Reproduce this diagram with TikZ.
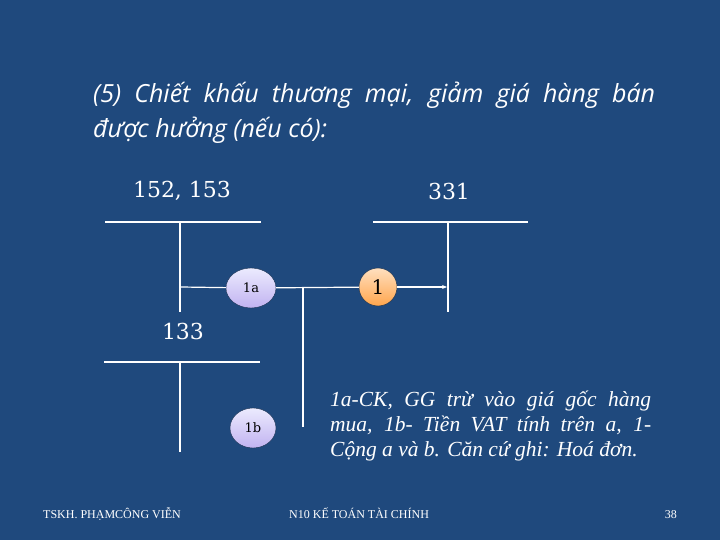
\documentclass[tikz,border=0pt]{standalone}
\usepackage{fontspec}
\setmainfont{Liberation Serif}
\newfontfamily\titlefont{Open Sans}
\newfontfamily\numfont{DejaVu Serif}
\usetikzlibrary{shapes.geometric,arrows.meta}
\definecolor{bg}{RGB}{31,73,125}
\begin{document}
\begin{tikzpicture}[x=1pt,y=-1pt,
  tline/.style={white,line width=2.4pt},
  conn/.style={white,line width=1.2pt},
  acct/.style={text=white,font=\numfont\fontsize{22}{26}\selectfont,inner sep=0pt},
  bubble/.style={ellipse,draw=bg!60!black,line width=0.4pt,inner sep=0pt,font=\numfont},
  lav/.style={bubble,top color=purple!6!blue!8!white,bottom color=purple!25!blue!30!white,minimum width=50pt,minimum height=40pt},
  org/.style={bubble,circle,top color=orange!25!white,bottom color=orange!70!white,minimum size=38pt},
  foot/.style={text=white,font=\fontsize{12}{14}\selectfont,inner sep=0pt}]
\fill[bg] (0,0) rectangle (720,540);
\useasboundingbox (0,0) rectangle (720,540);
% title
\node[anchor=north west,inner sep=0pt,text=white,text width=562pt,align=justify,
  font=\titlefont\itshape\fontsize{25}{35}\selectfont] (title) at (93,82)
  {(5) Chiết khấu thương mại, giảm giá hàng bán\linebreak được hưởng (nếu có):};
% account labels
\node[acct] (l152) at (182,191) {152, 153};
\node[acct] (l331) at (449,191) {331};
\node[acct] (l133) at (183,331) {133};
% T accounts
\draw[tline] (105,222) -- (261,222);
\draw[tline] (180,222) -- (180,312);
\draw[tline] (373,222) -- (528,222);
\draw[tline] (448,222) -- (448,312);
\draw[tline] (104,362) -- (260,362);
\draw[tline] (180,362) -- (180,452);
% bubbles
\node[lav] (n1a) at (251,288) {\fontsize{13}{15}\selectfont 1a};
\node[org] (n1) at (378,287) {\fontsize{20}{24}\selectfont 1};
\node[lav,minimum width=46pt] (n1b) at (253,428) {\fontsize{13}{15}\selectfont 1b};
% connectors
\coordinate (c152) at (181,287);
\coordinate (c331) at (447,287);
\coordinate (j) at (303,287);
\coordinate (jb) at (303,427);
\draw[conn] (c152) -- (n1a);
\draw[conn] (n1a) -- (n1);
\draw[conn,-{Stealth[length=5pt,width=4pt]}] (n1) -- (c331);
\draw[conn] (j) -- (jb);
% note
\node[anchor=north west,inner sep=0pt,text=white,text width=321pt,align=justify,
  font=\itshape\fontsize{21.5}{25}\selectfont] (note) at (330,391)
  {1a-CK, GG trừ vào giá gốc hàng\linebreak mua, 1b- Tiền VAT tính trên a, 1-\linebreak Cộng a và b. Căn cứ ghi: Hoá đơn.};
% footer
\node[foot,anchor=base west] (f1) at (43,518) {TSKH. PHẠMCÔNG VIỄN};
\node[foot,anchor=base west] (f2) at (289,518) {N10 KẾ TOÁN TÀI CHÍNH};
\node[foot,anchor=base east] (f3) at (677,518) {38};
\end{tikzpicture}
\end{document}
